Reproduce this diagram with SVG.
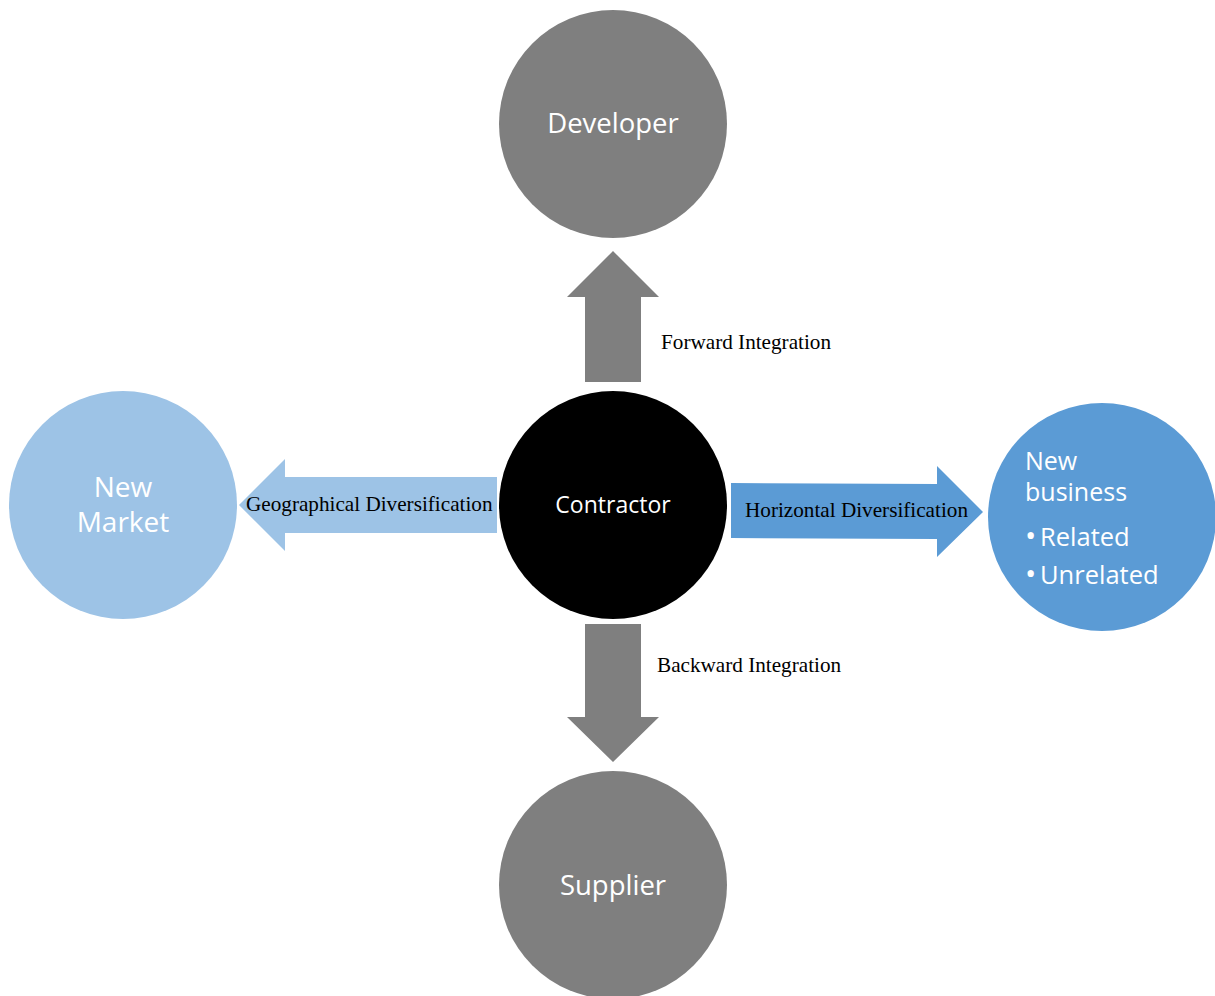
<svg xmlns="http://www.w3.org/2000/svg" width="1215" height="996" viewBox="0 0 1215 996">
<style>
.lbl{font-family:"Liberation Serif","Times New Roman",serif;font-size:21.2px;fill:#000}
.nt{font-family:"Open Sans","Noto Sans",sans-serif;fill:#fff}
.gray{fill:#7f7f7f}
</style>
<rect width="1215" height="996" fill="#fff"/>
<g id="connectors">
<polygon class="gray" points="585,382 585,297 567,297 613,251 659,297 641,297 641,382"/>
<polygon class="gray" points="585,624 641,624 641,717 659,717 613,762 567,717 585,717"/>
<polygon fill="#9dc3e6" points="497,477 285,477 285,459 239,505 285,551 285,533 497,533"/>
<polygon fill="#5b9bd5" points="731,483 937,484 937,466 983,512 937,557 937,539 731,538"/>
<text class="lbl" x="661" y="349">Forward Integration</text>
<text class="lbl" x="657" y="672">Backward Integration</text>
<text class="lbl" x="246" y="511">Geographical Diversification</text>
<text class="lbl" x="745" y="517">Horizontal Diversification</text>
</g>
<g id="developer">
<circle class="gray" cx="613" cy="124" r="114"/>
<text class="nt" x="613" y="133" font-size="27.5" text-anchor="middle">Developer</text>
</g>
<g id="contractor">
<circle cx="613" cy="505" r="114" fill="#000"/>
<text class="nt" x="613" y="513" font-size="23" text-anchor="middle">Contractor</text>
</g>
<g id="supplier">
<circle class="gray" cx="613" cy="885" r="114"/>
<text class="nt" x="613" y="895" font-size="27.5" text-anchor="middle">Supplier</text>
</g>
<g id="new-market">
<circle cx="123" cy="505" r="114" fill="#9dc3e6"/>
<text class="nt" x="123" y="497" font-size="28" text-anchor="middle">New</text>
<text class="nt" x="123" y="532" font-size="28" text-anchor="middle">Market</text>
</g>
<g id="new-business">
<circle cx="1102" cy="517" r="114" fill="#5b9bd5"/>
<text class="nt" x="1025" y="470" font-size="25">New</text>
<text class="nt" x="1025" y="501" font-size="25">business</text>
<text class="nt" x="1025" y="546" font-size="25.5"><tspan font-size="30">•</tspan><tspan x="1040">Related</tspan></text>
<text class="nt" x="1025" y="584" font-size="25.5"><tspan font-size="30">•</tspan><tspan x="1040">Unrelated</tspan></text>
</g>
</svg>
